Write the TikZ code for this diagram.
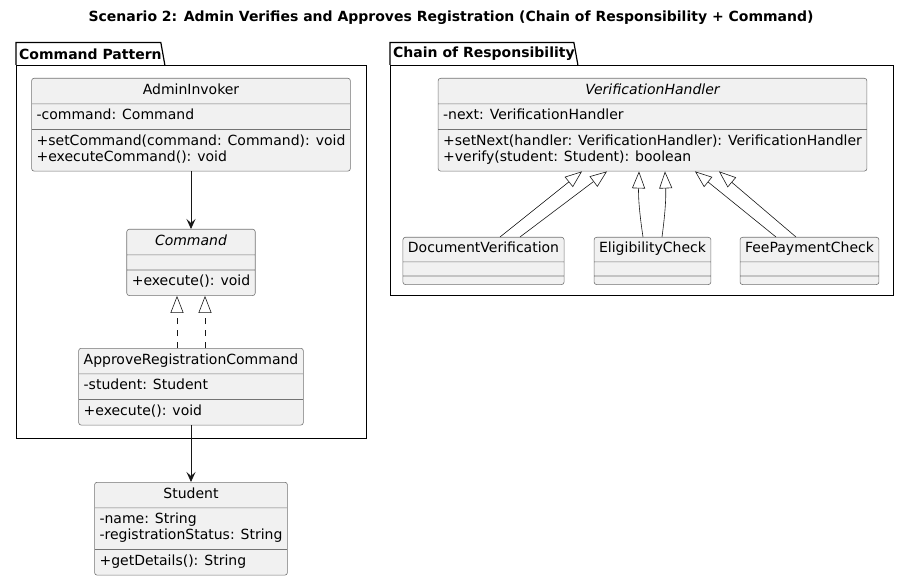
\documentclass[tikz,border=0pt]{standalone}
\usepackage{fontspec}
\setmainfont{DejaVu Sans}
\usetikzlibrary{arrows.meta,shapes.multipart,positioning}
\definecolor{umlfill}{HTML}{F1F1F1}
\definecolor{umlline}{HTML}{181818}
\newcommand{\nomembers}{\hspace*{1pt}}

\begin{document}
\begin{tikzpicture}[x=1pt, y=-1pt,
    cls/.style={rectangle split, rectangle split parts=3, rectangle split part align={center,left,left},
        draw=black!55, fill=umlfill, rounded corners=2.5pt, line width=0.6pt,
        inner xsep=5pt, inner ysep=4.5pt, anchor=north, font=\fontsize{14}{16}\selectfont},
    emptycls/.style={cls, inner ysep=4pt},
    pkg/.style={draw, line width=1.2pt, anchor=north west, inner sep=0pt},
    tablbl/.style={anchor=south west, inner xsep=3pt, inner ysep=0pt, minimum height=22pt, font=\fontsize{14}{16}\selectfont\bfseries},
    ttl/.style={font=\fontsize{14}{16}\selectfont\bfseries},
    assoc/.style={-{Stealth[length=10pt,width=9pt,inset=4pt]}, line width=0.7pt, draw=umlline},
    gen/.style={-{Triangle[length=17pt,width=13pt,fill=white]}, line width=0.6pt, draw=umlline},
    real/.style={gen, dash pattern=on 6pt off 6pt}
]
\useasboundingbox (0,0) rectangle (916,580);

\node[ttl] (title) at (451,18) {Scenario 2: Admin Verifies and Approves Registration (Chain of Responsibility + Command)};

\node[pkg, minimum width=350pt, minimum height=373pt] (cmdpkg) at (16,65) {};
\node[tablbl] (cmdtab) at (cmdpkg.north west) {Command Pattern};
\draw[line width=1.2pt] (cmdtab.south west) |- ([xshift=-4pt]cmdtab.north east) -- (cmdtab.south east);

\node[pkg, minimum width=503pt, minimum height=230pt] (corpkg) at (390,65) {};
\node[tablbl] (cortab) at (corpkg.north west) {Chain of Responsibility};
\draw[line width=1.2pt] (cortab.south west) |- ([xshift=-4pt]cortab.north east) -- (cortab.south east);

\node[cls, minimum width=316pt] (invoker) at (191,78) {\strut AdminInvoker
    \nodepart{two}\strut -command: Command
    \nodepart{three}\begin{tabular}{@{}l@{}}+setCommand(command: Command): void\\+executeCommand(): void\end{tabular}};
\node[cls, minimum width=128pt] (command) at (191,229) {\strut\itshape Command
    \nodepart{two}\nomembers
    \nodepart{three}\strut +execute(): void};
\node[cls, minimum width=220pt] (approve) at (191,348) {\strut ApproveRegistrationCommand
    \nodepart{two}\strut -student: Student
    \nodepart{three}\strut +execute(): void};
\node[cls, minimum width=192pt] (student) at (191,482) {\strut Student
    \nodepart{two}\begin{tabular}{@{}l@{}}-name: String\\-registrationStatus: String\end{tabular}
    \nodepart{three}\strut +getDetails(): String};

\node[cls, minimum width=425pt] (handler) at (652.5,78) {\strut\itshape VerificationHandler
    \nodepart{two}\strut -next: VerificationHandler
    \nodepart{three}\begin{tabular}{@{}l@{}}+setNext(handler: VerificationHandler): VerificationHandler\\+verify(student: Student): boolean\end{tabular}};
\node[emptycls, minimum width=157pt] (docver) at (483.5,237) {\strut DocumentVerification
    \nodepart{two}\nomembers
    \nodepart{three}\nomembers};
\node[emptycls, minimum width=111pt] (elig) at (652.5,237) {\strut EligibilityCheck
    \nodepart{two}\nomembers
    \nodepart{three}\nomembers};
\node[emptycls, minimum width=135pt] (fee) at (809.5,237) {\strut FeePaymentCheck
    \nodepart{two}\nomembers
    \nodepart{three}\nomembers};

\draw[assoc] (invoker.south) -- (command.north);
\draw[real] ([xshift=-14pt]approve.north) -- ([xshift=-14pt]command.south);
\draw[real] ([xshift=14pt]approve.north) -- ([xshift=14pt]command.south);
\draw[assoc] (approve.south) -- (student.north);

\draw[gen] ([xshift=16.5pt]docver.north) -- ([xshift=-70.5pt]handler.south);
\draw[gen] ([xshift=36.5pt]docver.north) -- ([xshift=-45.5pt]handler.south);
\draw[gen] ([xshift=-9.5pt]elig.north) to[bend left=5] ([xshift=-13.5pt]handler.south);
\draw[gen] ([xshift=9.5pt]elig.north) to[bend right=5] ([xshift=12.5pt]handler.south);
\draw[gen] ([xshift=-33.5pt]fee.north) -- ([xshift=42.5pt]handler.south);
\draw[gen] ([xshift=-13.5pt]fee.north) -- ([xshift=66.5pt]handler.south);
\end{tikzpicture}
\end{document}
